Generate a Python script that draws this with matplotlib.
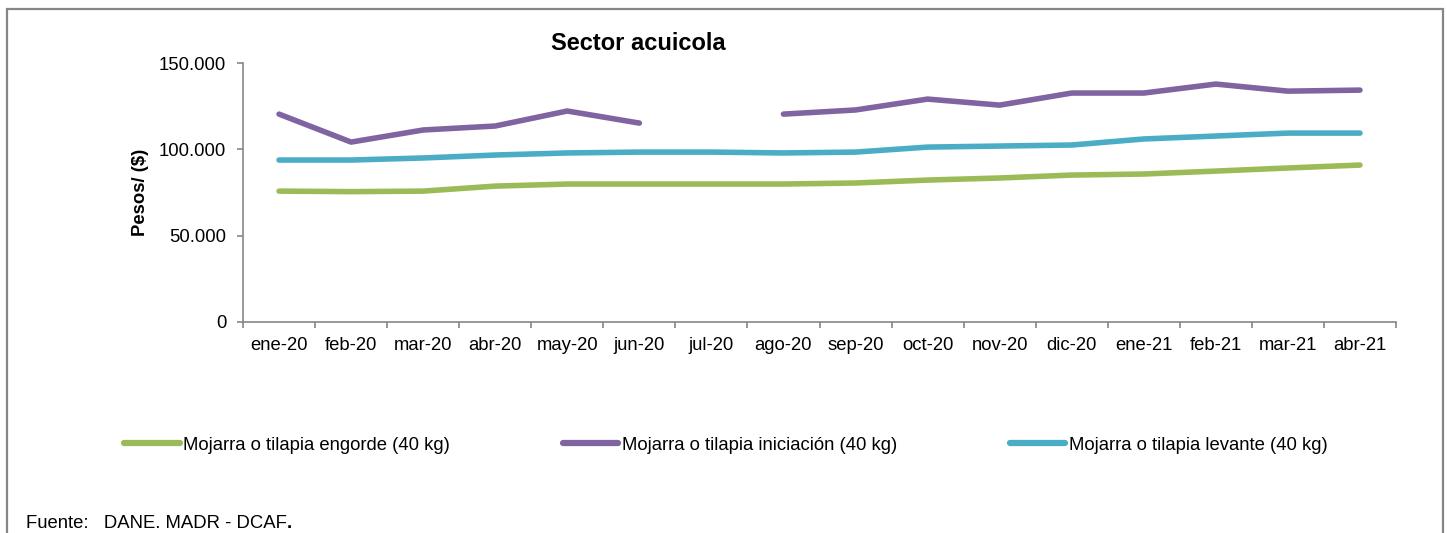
import numpy as np
import matplotlib
matplotlib.use('Agg')
import matplotlib.pyplot as plt
from matplotlib.patches import Rectangle
from matplotlib.ticker import FuncFormatter

plt.rcParams['font.family'] = ['Liberation Sans', 'DejaVu Sans']

MESES = ['ene-20', 'feb-20', 'mar-20', 'abr-20', 'may-20', 'jun-20', 'jul-20',
         'ago-20', 'sep-20', 'oct-20', 'nov-20', 'dic-20', 'ene-21', 'feb-21',
         'mar-21', 'abr-21']

# precios en pesos
engorde = [75800, 75500, 75800, 78700, 79900, 79900, 79900, 79900, 80500,
           82200, 83400, 85100, 85700, 87400, 89200, 90900]
iniciacion = [120400, 104200, 111200, 113500, 122200, 115200, np.nan, 120400,
              122800, 129100, 125600, 132600, 132600, 137800, 133700, 134300]
levante = [93800, 93800, 95000, 96700, 97900, 98400, 98400, 97900, 98400,
           101300, 101900, 102500, 106000, 107700, 109400, 109400]

SERIES = [
    ('Mojarra o tilapia engorde (40 kg)', engorde, '#9BBB59'),
    ('Mojarra o tilapia iniciación (40 kg)', iniciacion, '#8064A2'),
    ('Mojarra o tilapia levante (40 kg)', levante, '#4BACC6'),
]

W, H = 1447, 533
fig = plt.figure(figsize=(W / 100, H / 100), dpi=100)
ax = fig.add_axes([243 / W, (H - 322) / H, (1396 - 243) / W, (322 - 63) / H])

x = np.arange(len(MESES))
handles = []
for nombre, vals, color in SERIES:
    ln, = ax.plot(x, vals, color=color, lw=4.0, solid_capstyle='round',
                  solid_joinstyle='round', label=nombre)
    handles.append(ln)

ax.set_xlim(-0.5, len(MESES) - 0.5)
ax.set_ylim(0, 150000)
ax.set_yticks([0, 50000, 100000, 150000])
ax.yaxis.set_major_formatter(FuncFormatter(lambda v, p: f'{int(v):,}'.replace(',', '.')))

ax.set_xticks(np.arange(-0.5, len(MESES)))
ax.set_xticklabels([])
ax.set_xticks(x, minor=True)
ax.set_xticklabels(MESES, minor=True)

gris = '#868686'
for s in ['top', 'right']:
    ax.spines[s].set_visible(False)
for s in ['left', 'bottom']:
    ax.spines[s].set_color(gris)
    ax.spines[s].set_linewidth(1.2)
ax.tick_params(axis='both', which='major', direction='out', length=4,
               width=1.2, color=gris, labelsize=13.3, pad=8)
ax.tick_params(axis='x', which='minor', length=0, labelsize=13.3, pad=11)

ax.set_ylabel('Pesos/ ($)', fontsize=13.3, fontweight='bold')
ax.yaxis.set_label_coords((149 - 243) / (1396 - 243), 0.5)

fig.text(638 / W, (H - 44) / H, 'Sector acuicola', fontsize=17,
         fontweight='bold', ha='center', va='center')

leg = fig.legend(handles=handles, loc='center', bbox_to_anchor=(726 / W, (H - 445) / H),
                 ncol=3, frameon=False, fontsize=13.3, handlelength=3.0,
                 handletextpad=0.2, columnspacing=6.1)
for lh in leg.get_lines():
    lh.set_linewidth(4.5)

fig.text(26 / W, (H - 523) / H, 'Fuente:   DANE. MADR - DCAF', fontsize=13.3,
         ha='left', va='center')
fig.text(287 / W, (H - 523) / H, '.', fontsize=13.3, fontweight='bold',
         ha='left', va='center')

# marco exterior
fig.patches.append(Rectangle((7 / W, -0.05), (1443 - 7) / W, (H - 9) / H + 0.05,
                             transform=fig.transFigure, fill=False,
                             edgecolor=gris, lw=1.6, clip_on=False))

fig.savefig('out.png', dpi=100, facecolor='white')
